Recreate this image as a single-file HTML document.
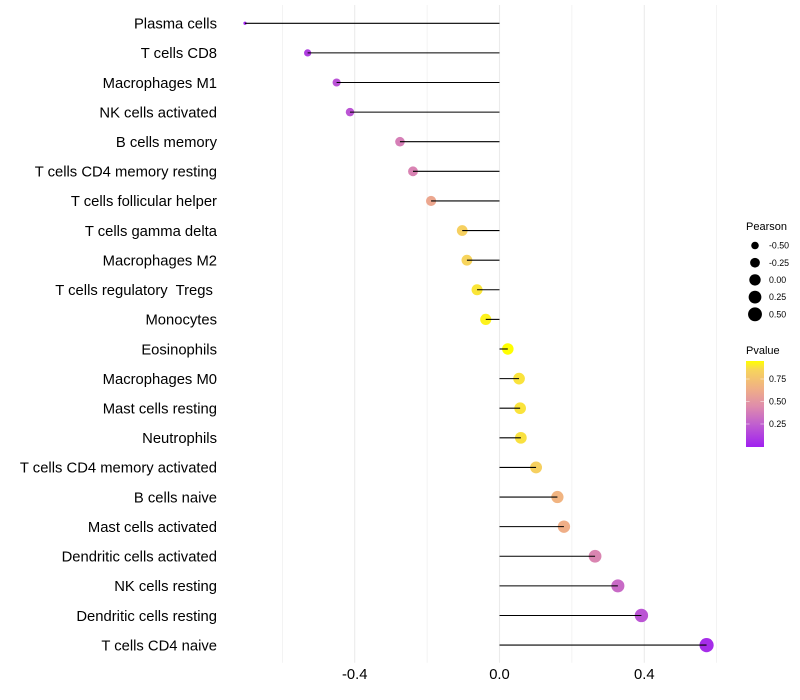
<!DOCTYPE html>
<html>
<head>
<meta charset="utf-8">
<title>Lollipop chart</title>
<style>
html,body{margin:0;padding:0;background:#fff;}
svg{display:block;font-family:"Liberation Sans",sans-serif;}
text{white-space:pre;}
</style>
</head>
<body>
<svg id="chart" width="800" height="700" viewBox="0 0 800 700" xmlns="http://www.w3.org/2000/svg">
<defs>
<linearGradient id="pvalue-gradient" x1="0" y1="1" x2="0" y2="0">
<stop offset="0" stop-color="#a020f0"/>
<stop offset="0.263" stop-color="#c05fcf"/>
<stop offset="0.474" stop-color="#df8cac"/>
<stop offset="0.684" stop-color="#f0b085"/>
<stop offset="0.895" stop-color="#f7d45c"/>
<stop offset="1" stop-color="#ffff00"/>
</linearGradient>
</defs>
<g id="grid"></g>
<g id="points"></g>
<g id="stems"></g>
<g id="ylabels"></g>
<g id="xlabels"></g>
<g id="size-legend"></g>
<g id="color-legend"></g>
</svg>
<script>
const categories = ["Plasma cells","T cells CD8","Macrophages M1","NK cells activated","B cells memory","T cells CD4 memory resting","T cells follicular helper","T cells gamma delta","Macrophages M2","T cells regulatory  Tregs ","Monocytes","Eosinophils","Macrophages M0","Mast cells resting","Neutrophils","T cells CD4 memory activated","B cells naive","Mast cells activated","Dendritic cells activated","NK cells resting","Dendritic cells resting","T cells CD4 naive"];
const pearson = [-0.703,-0.530,-0.450,-0.413,-0.275,-0.239,-0.189,-0.103,-0.090,-0.062,-0.038,0.023,0.054,0.057,0.059,0.101,0.160,0.178,0.264,0.327,0.392,0.572];
const pvalue = [0.01,0.12,0.20,0.21,0.39,0.41,0.60,0.83,0.85,0.89,0.92,0.95,0.885,0.885,0.88,0.83,0.67,0.64,0.42,0.30,0.21,0.05];
const xMajorTicks = [-0.4,0,0.4];
const xMinorTicks = [-0.6,-0.2,0.2,0.6];
const xTickLabels = ["-0.4","0.0","0.4"];
const sizeLegendValues = [-0.5,-0.25,0,0.25,0.5];
const sizeLegendLabels = ["-0.50","-0.25","0.00","0.25","0.50"];
const colorLegendValues = [0.25,0.5,0.75];
const colorLegendLabels = ["0.25","0.50","0.75"];

const NS = "http://www.w3.org/2000/svg";
function make(parent, tag, attrs, txt) {
  const el = document.createElementNS(NS, tag);
  for (const k in attrs) el.setAttribute(k, attrs[k]);
  if (txt !== undefined) el.textContent = txt;
  parent.appendChild(el);
  return el;
}
const xScale = v => 499.5 + 362 * v;
const yScale = i => 23.28 + 29.61 * i;
const sizeMin = -0.703, sizeMax = 0.572;
function radius(v) {
  const t = Math.max(0, (v - sizeMin) / (sizeMax - sizeMin));
  return 1.6 + 5.5 * Math.sqrt(t);
}
const colorRamp = [[0,[160,32,240]],[0.25,[192,95,207]],[0.45,[223,140,172]],[0.65,[240,176,133]],[0.85,[247,212,92]],[0.95,[255,255,0]]];
function colorOf(p) {
  for (let i = 1; i < colorRamp.length; i++) {
    if (p <= colorRamp[i][0]) {
      const a = colorRamp[i-1], b = colorRamp[i];
      const t = Math.max(0, (p - a[0]) / (b[0] - a[0]));
      const c = a[1].map((q, j) => Math.round(q + (b[1][j] - q) * t));
      return "rgb(" + c.join(",") + ")";
    }
  }
  return "rgb(255,255,0)";
}

const panelTop = 5, panelBottom = 662.8;
const gGrid = document.getElementById("grid");
xMinorTicks.forEach(v => {
  const el = make(gGrid, "line", {x1:xScale(v), x2:xScale(v), y1:panelTop, y2:panelBottom, stroke:"#ebebeb", "stroke-width":0.6});
  
  
});
xMajorTicks.forEach(v => {
  const el = make(gGrid, "line", {x1:xScale(v), x2:xScale(v), y1:panelTop, y2:panelBottom, stroke:"#ebebeb", "stroke-width":1.07});
  
  
});

const gPoints = document.getElementById("points");
const gStems = document.getElementById("stems");
const gY = document.getElementById("ylabels");
categories.forEach((name, i) => {
  const y = yScale(i);
  const pt = make(gPoints, "circle", {cx:xScale(pearson[i]), cy:y, r:radius(pearson[i]), fill:colorOf(pvalue[i])});
  
  
  const st = make(gStems, "line", {x1:xScale(0), x2:xScale(pearson[i]), y1:y, y2:y, stroke:"#000", "stroke-width":1.07});
  
  
  const lb = make(gY, "text", {x:217, y:y + 5.3, "text-anchor":"end", "font-size":14.8, fill:"#000"}, name);
  
  
});

const gX = document.getElementById("xlabels");
xMajorTicks.forEach((v, i) => {
  const lb = make(gX, "text", {x:xScale(v), y:679, "text-anchor":"middle", "font-size":14.8, fill:"#000"}, xTickLabels[i]);
  
  
});

const gS = document.getElementById("size-legend");
const st1 = make(gS, "text", {x:746, y:230, "font-size":11, fill:"#000"}, "Pearson");


sizeLegendValues.forEach((v, i) => {
  const y = 245.5 + 17.2 * i;
  const c = make(gS, "circle", {cx:755, cy:y, r:radius(v), fill:"#000"});
  
  
  const t = make(gS, "text", {x:769, y:y + 3.1, "font-size":8.8, fill:"#000"}, sizeLegendLabels[i]);
  
  
});

const gC = document.getElementById("color-legend");
const ct1 = make(gC, "text", {x:746, y:354, "font-size":11, fill:"#000"}, "Pvalue");


const bar = make(gC, "rect", {x:746, y:361, width:18, height:86, fill:"url(#pvalue-gradient)"});


const legendY = p => 446.5 - 90 * p;
colorLegendValues.forEach((p, i) => {
  const y = legendY(p);
  const t1 = make(gC, "line", {x1:746, x2:749.6, y1:y, y2:y, stroke:"#fff", "stroke-width":0.6, "stroke-opacity":0.8});
  
  
  const t2 = make(gC, "line", {x1:760.4, x2:764, y1:y, y2:y, stroke:"#fff", "stroke-width":0.6, "stroke-opacity":0.8});
  
  
  const t = make(gC, "text", {x:769, y:y + 3.1, "font-size":8.8, fill:"#000"}, colorLegendLabels[i]);
  
  
});
</script>
</body>
</html>
